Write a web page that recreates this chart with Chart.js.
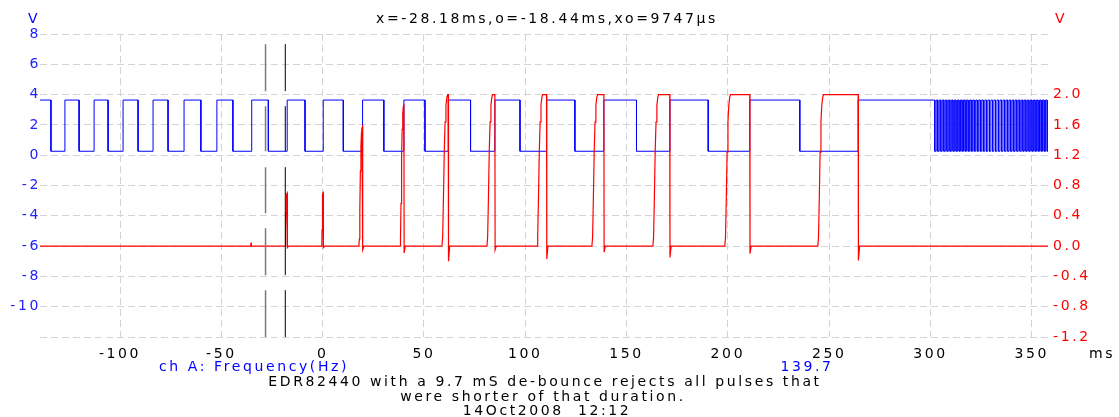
<!DOCTYPE html>
<html>
<head>
<meta charset="utf-8">
<script src="https://cdn.jsdelivr.net/npm/chart.js@4.4.1/dist/chart.umd.min.js"></script>
<style>
  html, body { margin: 0; padding: 0; background: #fff; }
  canvas { display: block; }
</style>
</head>
<body>
<canvas id="c" width="1119" height="417"></canvas>
<script>
const canvas = document.getElementById("c")

// time window (ms) and ticks
const x_min = -139.5
const x_max = 358
const x_ticks = [-100, -50, 0, 50, 100, 150, 200, 250, 300, 350]
const y_left_ticks = [-12, -10, -8, -6, -4, -2, 0, 2, 4, 6, 8]
const y_right_ticks = [-1.2, -0.8, -0.4, 0.0, 0.4, 0.8, 1.2, 1.6, 2.0]

// ch A (blue): square input, starts high, toggles at each edge (ms)
const blue_high = 3.64
const blue_low = 0.26
const blue_edges = [
  -134.1, -127.2, -120.2, -112.8, -105.9, -98.5, -91.1, -83.7, -76.3, -68.4,
  -60.1, -52.2, -44.3, -35.0, -26.8, -17.5, -8.7, 0.3, 10.2, 19.7,
  30.2, 40.1, 50.5, 62.0, 73.0, 85.0, 97.4, 110.5, 124.5, 138.8,
  154.9, 171.4, 190.3, 210.8, 235.5, 264.3,
  // fast burst at the end
  302.1, 302.8, 303.6, 304.3, 305.1, 305.8, 306.6, 307.3, 308.1, 308.8,
  309.6, 310.3, 311.1, 311.8, 312.6, 313.3, 314.1, 314.8, 315.6, 316.3,
  317.1, 317.8, 318.6, 319.3, 320.1, 320.8, 321.6, 322.3, 323.1, 323.8,
  324.6, 325.3, 326.1, 326.8, 327.6, 328.3, 329.1, 329.8, 330.6, 331.3,
  332.1, 332.8, 333.6, 334.3, 335.1, 335.8, 336.6, 337.3, 338.1, 338.8,
  339.6, 340.3, 341.1, 341.8, 342.6, 343.3, 344.1, 344.8, 345.6, 346.3,
  347.1, 347.8, 348.6, 349.3, 350.1, 350.8, 351.6, 352.3, 353.1, 353.8,
  354.6, 355.3, 356.1, 356.8, 357.6
]

// ch B (red): de-bounced output pulses
const red_rise = [-35.6, -18.4, -0.5, 17.9, 38.2, 58.9, 81.1, 105.8, 132.9, 163.0, 198.5, 244.4]
const red_fall = [-35.2, -17.5, 0.3, 19.7, 40.1, 62.0, 85.0, 110.5, 138.8, 171.3, 210.8, 264.3]
const red_peak = [0.04, 0.70, 0.72, 1.60, 1.88, 2.0, 2.0, 2.0, 2.0, 2.0, 2.0, 2.0]
const red_dip = [0, -0.02, -0.02, -0.05, -0.09, -0.2, -0.05, -0.17, -0.08, -0.15, -0.10, -0.19]

// cursors x and o (ms)
const cursor_times = [-28.18, -18.44]

const blue_color = "#0000ff"
const red_color = "#ff0000"
const grid_color = "#d4d4d4"
const font_family = "DejaVu Sans"
const spacing = "2.6px"

// rise shape of the output (fraction of time, fraction of peak)
const ramp_shape = [[0, 0], [0.12, 0.06], [0.25, 0.3], [0.4, 0.62], [0.55, 0.82], [0.7, 0.93], [0.85, 0.98], [1, 1]]
const ramp_ms = 2.8

function make_blue(){
    let pts = [{x: x_min, y: blue_high}]
    let level = blue_high
    for (let t of blue_edges){
        pts.push({x: t, y: level})
        level = (level == blue_high) ? blue_low : blue_high
        pts.push({x: t, y: level})
    }
    pts.push({x: x_max, y: level})
    return pts
}

function make_red(){
    let pts = [{x: x_min, y: 0}]
    for (let i = 0; i < red_rise.length; i++){
        let r = red_rise[i], f = red_fall[i], p = red_peak[i], d = red_dip[i]
        let dur = Math.min(ramp_ms, f - r)
        for (let s of ramp_shape){
            pts.push({x: r + s[0] * dur, y: p * s[1]})
        }
        if (dur < f - r){ pts.push({x: f, y: p}) }
        pts.push({x: f + 0.12, y: d})
        pts.push({x: f + 0.7, y: 0})
    }
    pts.push({x: x_max, y: 0})
    return pts
}

function cursor_line(t){
    return [{x: t, y: 7.33}, {x: t, y: -12}]
}

const spacing_plugin = {
    id: "spacing",
    beforeUpdate(chart){ chart.ctx.letterSpacing = spacing },
    beforeDraw(chart){ chart.ctx.letterSpacing = spacing }
}

const notes_plugin = {
    id: "notes",
    afterDraw(chart){
        const c = chart.ctx
        c.save()
        c.letterSpacing = spacing
        c.font = "14px '" + font_family + "'"
        c.textBaseline = "middle"

        c.textAlign = "center"
        c.fillStyle = blue_color
        c.fillText("V", 34, 19)
        c.fillStyle = red_color
        c.fillText("V", 1061, 19)
        c.fillStyle = "#000"
        c.fillText("x=-28.18ms,o=-18.44ms,xo=9747µs", 547, 19)

        c.textAlign = "left"
        c.fillText("ms", 1089, 354)
        c.fillStyle = blue_color
        c.fillText("ch A: Frequency(Hz)", 159, 367)
        c.textAlign = "center"
        c.fillText("139.7", 807, 367)

        c.fillStyle = "#000"
        c.fillText("EDR82440 with a 9.7 mS de-bounce rejects all pulses that", 545, 382)
        c.fillText("were shorter of that duration.", 543, 397)
        c.fillText("14Oct2008  12:12", 547, 411)
        c.restore()
    }
}

const chart = new Chart(canvas.getContext("2d"), {
    type: "line",
    data: {
        datasets: [
            {data: cursor_line(cursor_times[0]), borderColor: "#7a7a7a", borderWidth: 1.5,
             borderDash: [47, 15, 45, 16, 46, 15, 47, 15, 47], yAxisID: "y"},
            {data: cursor_line(cursor_times[1]), borderColor: "#000000", borderWidth: 1,
             borderDash: [47, 15, 45, 16, 108, 15, 47], yAxisID: "y"},
            {data: make_red(), borderColor: red_color, borderWidth: 1.2, yAxisID: "y2"},
            {data: make_blue(), borderColor: blue_color, borderWidth: 1, yAxisID: "y"}
        ]
    },
    options: {
        responsive: false,
        animation: false,
        events: [],
        layout: {padding: {top: 34, left: 0, right: 0, bottom: 0}},
        elements: {point: {radius: 0}, line: {tension: 0, fill: false}},
        plugins: {legend: {display: false}, tooltip: {enabled: false}},
        scales: {
            x: {
                type: "linear", min: x_min, max: x_max,
                afterBuildTicks: s => { s.ticks = x_ticks.map(v => ({value: v})) },
                afterFit: s => { s.height = 80 },
                grid: {color: grid_color, drawTicks: false},
                border: {display: false, dash: [7, 4]},
                ticks: {color: "#000", padding: 9, maxRotation: 0, autoSkip: false,
                        font: {family: font_family, size: 14}, callback: v => String(v)}
            },
            y: {
                position: "left", min: -12, max: 8,
                afterBuildTicks: s => { s.ticks = y_left_ticks.map(v => ({value: v})) },
                afterFit: s => { s.width = 40 },
                grid: {color: grid_color, drawTicks: false},
                border: {display: false, dash: [7, 4]},
                ticks: {color: "#2222ff", padding: -1, autoSkip: false,
                        font: {family: font_family, size: 14},
                        callback: v => v == -12 ? "" : String(v)}
            },
            y2: {
                position: "right", min: -1.2, max: 2.8,
                afterBuildTicks: s => { s.ticks = y_right_ticks.map(v => ({value: v})) },
                afterFit: s => { s.width = 71 },
                grid: {display: false, drawTicks: false},
                border: {display: false},
                ticks: {color: red_color, padding: 5, autoSkip: false,
                        font: {family: font_family, size: 14},
                        callback: v => v.toFixed(1)}
            }
        }
    },
    plugins: [spacing_plugin, notes_plugin]
})
</script>
</body>
</html>
